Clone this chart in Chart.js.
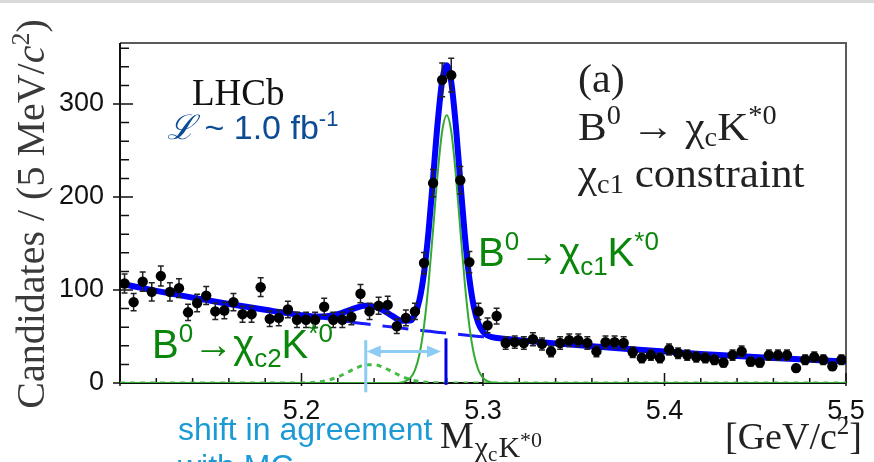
<!DOCTYPE html>
<html>
<head>
<meta charset="utf-8">
<script src="https://cdn.jsdelivr.net/npm/chart.js@4.4.1/dist/chart.umd.min.js"></script>
<style>
html,body{margin:0;padding:0;background:#fff;}
#wrap{position:relative;width:874px;height:462px;overflow:hidden;}
canvas{display:block;}
</style>
</head>
<body>
<div id="wrap"><canvas id="c" width="874" height="462"></canvas></div>
<script>
// B0 -> chi_c K*0 candidates in 5 MeV/c2 bins (bin centres, GeV/c2)
const binCenters = [
  5.1025,5.1075,5.1125,5.1175,5.1225,5.1275,5.1325,5.1375,5.1425,5.1475,
  5.1525,5.1575,5.1625,5.1675,5.1725,5.1775,5.1825,5.1875,5.1925,5.1975,
  5.2025,5.2075,5.2125,5.2175,5.2225,5.2275,5.2325,5.2375,5.2425,5.2475,
  5.2525,5.2575,5.2625,5.2675,5.2725,5.2775,5.2825,5.2875,5.2925,5.2975,
  5.3025,5.3075,5.3125,5.3175,5.3225,5.3275,5.3325,5.3375,5.3425,5.3475,
  5.3525,5.3575,5.3625,5.3675,5.3725,5.3775,5.3825,5.3875,5.3925,5.3975,
  5.4025,5.4075,5.4125,5.4175,5.4225,5.4275,5.4325,5.4375,5.4425,5.4475,
  5.4525,5.4575,5.4625,5.4675,5.4725,5.4775,5.4825,5.4875,5.4925,5.4975
];
const candidates = [
  107,87,109,98,115,98,102,76,86,94,
  77,78,87,74,74,103,69,70,79,68,
  68,68,82,68,68,71,96,77,83,84,
  61,70,77,129,215,326,331,218,130,77,
  62,72,43,44,43,47,42,34,43,46,
  46,43,34,44,44,43,33,27,30,27,
  36,32,30,28,27,25,22,30,34,23,
  22,30,30,30,16,25,28,25,18,25
];
const candidateErrors = [
  10.3,9.3,10.4,9.9,10.7,9.9,10.1,8.7,9.3,9.7,
  8.8,8.8,9.3,8.6,8.6,10.1,8.3,8.4,8.9,8.2,
  8.2,8.2,9.1,8.2,8.2,8.4,9.8,8.8,9.1,9.2,
  7.8,8.4,8.8,11.4,14.7,18.1,18.2,14.8,11.4,8.8,
  7.9,8.5,6.6,6.6,6.6,6.9,6.5,5.8,6.6,6.8,
  6.8,6.6,5.8,6.6,6.6,6.6,5.7,5.2,5.5,5.2,
  6.0,5.7,5.5,5.3,5.2,5.0,4.7,5.5,5.8,4.8,
  4.7,5.5,5.5,5.5,4.0,5.0,5.3,5.0,4.2,5.0
];

// fit components sampled along the mass axis
const fitMass = [
  5.10,5.12,5.14,5.16,5.18,5.20,5.21,5.215,5.22,5.225,5.23,5.235,5.24,5.245,5.25,5.255,
  5.26,5.2625,5.265,5.2675,5.27,5.2725,5.275,5.2775,5.28,5.2825,5.285,5.2875,5.29,5.2925,
  5.295,5.2975,5.30,5.3025,5.305,5.31,5.32,5.34,5.36,5.38,5.40,5.42,5.44,5.46,5.48,5.50
];
const fitTotal = [
  107.0,99.1,91.8,85.0,78.7,73.0,71.4,72.0,74.0,77.3,80.9,83.1,82.2,78.2,72.2,66.9,
  67.1,73.6,89.3,118.3,163.1,220.4,279.6,324.8,341.6,323.8,277.4,217.0,158.4,112.2,
  81.5,63.9,55.1,51.1,49.3,47.8,46.0,42.6,39.4,36.5,33.8,31.3,29.0,26.9,24.9,23.0
];
const fitBackground = [
  107.0,99.1,91.8,85.0,78.7,72.9,70.1,68.8,67.5,66.2,64.9,63.7,62.5,61.3,60.1,59.0,
  57.9,57.3,56.8,56.2,55.7,55.2,54.6,54.1,53.6,53.1,52.6,52.1,51.6,51.1,
  50.6,50.1,49.6,49.2,48.7,47.8,46.0,42.6,39.4,36.5,33.8,31.3,29.0,26.9,24.9,23.0
];
const fitChic1 = [
  0,0,0,0,0,0,0,0,0,0,0,0,0,0,0,0.6,
  5.5,13.8,30.9,61.1,106.8,164.9,224.8,270.7,288.0,270.7,224.8,164.9,106.8,61.1,
  30.9,13.8,5.5,1.9,0.6,0,0,0,0,0,0,0,0,0,0,0
];
const fitChic2 = [
  0,0,0,0,0,0.1,1.3,3.2,6.5,11.1,16.0,19.4,19.7,16.9,12.1,7.3,
  3.7,2.5,1.6,1.0,0.6,0.3,0.2,0.1,0,0,0,0,0,0,
  0,0,0,0,0,0,0,0,0,0,0,0,0,0,0,0
];

// axis labels
const xTickValues = [5.2, 5.3, 5.4, 5.5];
const xTickLabels = ['5.2', '5.3', '5.4', '5.5'];
const yTickValues = [0, 100, 200, 300];
const yTickLabels = ['0', '100', '200', '300'];

// fitted chi_c2 peak position and the B0 mass, marked under the peaks
const chic2PeakMass = 5.2354;
const b0Mass = 5.2796;

const SERIF = '"Liberation Serif", "Times New Roman", serif';
const SANS = '"Liberation Sans", Arial, sans-serif';
const f = (size, fam, style) => (style ? style + ' ' : '') + size + 'px ' + fam;
const pts = (xs, ys) => xs.map((x, i) => ({ x: x, y: ys[i] }));

// draw a run of text pieces with their own font and baseline shift
function rich(ctx, x, y, parts, align) {
  let w = 0;
  parts.forEach(p => { ctx.font = p[1]; w += ctx.measureText(p[0]).width + (p[3] || 0); });
  let cx = align === 'right' ? x - w : align === 'center' ? x - w / 2 : x;
  parts.forEach(p => {
    ctx.font = p[1];
    ctx.fillText(p[0], cx, y + (p[2] || 0));
    cx += ctx.measureText(p[0]).width + (p[3] || 0);
  });
}

const framePlugin = {
  id: 'frame',
  beforeDatasetsDraw(chart) {
    const { ctx, chartArea: a, scales: { x, y } } = chart;
    ctx.save();
    ctx.lineCap = 'butt';
    ctx.strokeStyle = '#5a5a5a';
    ctx.lineWidth = 2;
    ctx.beginPath();
    ctx.moveTo(a.left, a.top); ctx.lineTo(a.right, a.top); ctx.lineTo(a.right, a.bottom);
    ctx.stroke();
    ctx.strokeStyle = '#111';
    ctx.beginPath();
    ctx.moveTo(a.left, a.top); ctx.lineTo(a.left, a.bottom); ctx.lineTo(a.right, a.bottom);
    ctx.stroke();
    ctx.lineWidth = 1.5;
    ctx.beginPath();
    for (let v = 0; v <= 360; v += 20) {
      const py = y.getPixelForValue(v);
      const major = v % 100 === 0;
      ctx.moveTo(a.left - (major ? 7 : 0), py);
      ctx.lineTo(a.left + (major ? 13 : 9), py);
    }
    for (let k = 0; k <= 20; k++) {
      const px = x.getPixelForValue(5.1 + 0.02 * k);
      const major = k % 5 === 0;
      ctx.moveTo(px, a.bottom + (major ? 3 : 0));
      ctx.lineTo(px, a.bottom - (major ? 10 : 5));
    }
    ctx.stroke();
    ctx.restore();
  }
};

const errorBarPlugin = {
  id: 'errorBars',
  beforeDatasetDraw(chart, args) {
    if (args.index !== 0) return;
    const { ctx, scales: { x, y } } = chart;
    ctx.save();
    ctx.strokeStyle = '#222';
    ctx.lineWidth = 1.5;
    ctx.beginPath();
    binCenters.forEach((m, i) => {
      const px = x.getPixelForValue(m);
      const y1 = y.getPixelForValue(candidates[i] + candidateErrors[i]);
      const y0 = y.getPixelForValue(candidates[i] - candidateErrors[i]);
      ctx.moveTo(px, y0); ctx.lineTo(px, y1);
      ctx.moveTo(px - 3, y1); ctx.lineTo(px + 3, y1);
      ctx.moveTo(px - 3, y0); ctx.lineTo(px + 3, y0);
    });
    ctx.stroke();
    ctx.restore();
  }
};

const labelPlugin = {
  id: 'labels',
  afterDraw(chart) {
    const { ctx, scales: { x, y } } = chart;
    ctx.save();
    ctx.textBaseline = 'alphabetic';
    ctx.textAlign = 'left';

    // thin grey strip along the top edge
    ctx.fillStyle = '#d9d9d9';
    ctx.fillRect(0, 0, 874, 3);

    // chi_c2 position and B0 mass markers with the shift arrow
    const xs = x.getPixelForValue(chic2PeakMass);
    const xb = x.getPixelForValue(b0Mass);
    ctx.lineWidth = 3;
    ctx.strokeStyle = '#8ccbf3';
    ctx.beginPath();
    ctx.moveTo(xs, y.getPixelForValue(46)); ctx.lineTo(xs, y.getPixelForValue(-10));
    ctx.stroke();
    const ya = y.getPixelForValue(34);
    const tipL = xs + 1, tipR = xb - 5;
    ctx.beginPath();
    ctx.moveTo(tipL + 10, ya); ctx.lineTo(tipR - 10, ya);
    ctx.stroke();
    ctx.fillStyle = '#8ccbf3';
    ctx.beginPath();
    ctx.moveTo(tipL, ya); ctx.lineTo(tipL + 14, ya - 6); ctx.lineTo(tipL + 14, ya + 6); ctx.closePath();
    ctx.moveTo(tipR, ya); ctx.lineTo(tipR - 14, ya - 6); ctx.lineTo(tipR - 14, ya + 6); ctx.closePath();
    ctx.fill();
    ctx.strokeStyle = '#0000e6';
    ctx.beginPath();
    ctx.moveTo(xb, y.getPixelForValue(48)); ctx.lineTo(xb, y.getPixelForValue(-2));
    ctx.stroke();

    // y axis title
    ctx.save();
    ctx.translate(44, 214);
    ctx.rotate(-Math.PI / 2);
    ctx.fillStyle = '#3a3a3a';
    rich(ctx, 0, 0, [
      ['Candidates / (5 MeV/', f(40, SERIF)],
      ['c', f(40, SERIF, 'italic')],
      ['2', f(26, SERIF), -15],
      [')', f(40, SERIF)]
    ], 'center');
    ctx.restore();

    // x axis title
    ctx.fillStyle = '#222';
    rich(ctx, 440, 448, [
      ['M', f(38, SERIF), 0, 1],
      ['\u03C7', f(30, SERIF), 9],
      ['c', f(21, SERIF), 13, 1],
      ['K', f(30, SERIF), 9],
      ['*0', f(22, SERIF), -1]
    ]);
    rich(ctx, 862, 449, [
      ['[GeV/c', f(38, SERIF)],
      ['2', f(25, SERIF), -15],
      [']', f(38, SERIF)]
    ], 'right');

    // experiment and luminosity
    ctx.fillStyle = '#111';
    rich(ctx, 192, 105, [['LHCb', f(37, SERIF)]]);
    ctx.fillStyle = '#0c4c95';
    rich(ctx, 167, 139, [
      ['\u2112', f(34, '"DejaVu Serif", serif', 'italic')],
      [' ~ 1.0 fb', f(34, SANS)],
      ['-1', f(22, SANS), -13]
    ]);

    // panel legend, slightly widened lettering
    ctx.save();
    ctx.translate(578, 0);
    ctx.scale(1.05, 1);
    ctx.fillStyle = '#222';
    rich(ctx, 0, 92, [['(a)', f(40, SERIF)]]);
    rich(ctx, 0, 140, [
      ['B', f(41, SERIF)],
      ['0', f(27, SERIF), -16],
      [' \u2192 ', f(41, SERIF)],
      ['\u03C7', f(41, SERIF)],
      ['c', f(27, SERIF), 6],
      ['K', f(41, SERIF)],
      ['*0', f(27, SERIF), -16]
    ]);
    rich(ctx, 0, 187, [
      ['\u03C7', f(41, SERIF)],
      ['c1', f(27, SERIF), 6],
      [' constraint', f(41, SERIF)]
    ]);
    ctx.restore();

    // signal component labels
    ctx.fillStyle = '#0a860a';
    const decay = (x0, y0, sub) => rich(ctx, x0, y0, [
      ['B', f(40, SANS)],
      ['0', f(26, SANS), -16],
      ['\u2192', f(40, SANS)],
      ['\u03C7', f(40, SANS)],
      [sub, f(26, SANS), 9],
      ['K', f(40, SANS)],
      ['*0', f(26, SANS), -16]
    ]);
    decay(478, 266, 'c1');
    decay(152, 358, 'c2');

    // note under the axis
    ctx.fillStyle = '#1c9ad6';
    rich(ctx, 178, 440, [['shift in agreement', f(32, SANS)]]);
    rich(ctx, 178, 477, [['with MC', f(32, SANS)]]);

    ctx.restore();
  }
};

new Chart(document.getElementById('c'), {
  type: 'scatter',
  data: {
    datasets: [
      { label: 'Data', data: pts(binCenters, candidates), pointRadius: 5.2, pointHoverRadius: 5.2,
        backgroundColor: '#000', borderWidth: 0, order: 0 },
      { type: 'line', label: 'Total fit', data: pts(fitMass, fitTotal), borderColor: '#0000ff',
        borderWidth: 6, pointRadius: 0, cubicInterpolationMode: 'monotone', fill: false, order: 1 },
      { type: 'line', label: 'chi_c1', data: pts(fitMass, fitChic1), borderColor: '#33aa33',
        borderWidth: 2, pointRadius: 0, cubicInterpolationMode: 'monotone', fill: false, order: 2 },
      { type: 'line', label: 'Background', data: pts(fitMass, fitBackground), borderColor: '#1a1aff',
        borderWidth: 3, borderDash: [26, 12], pointRadius: 0, cubicInterpolationMode: 'monotone', fill: false, order: 3 },
      { type: 'line', label: 'chi_c2', data: pts(fitMass, fitChic2), borderColor: '#44bb44',
        borderWidth: 3, borderDash: [5, 5], pointRadius: 0, cubicInterpolationMode: 'monotone', fill: false, order: 4 }
    ]
  },
  options: {
    responsive: false,
    animation: false,
    devicePixelRatio: 1,
    events: [],
    layout: { padding: { top: 43, right: 28, left: 0, bottom: 0 } },
    plugins: { legend: { display: false }, tooltip: { enabled: false } },
    scales: {
      x: {
        type: 'linear', min: 5.1, max: 5.5,
        grid: { display: false }, border: { display: false },
        afterBuildTicks: s => { s.ticks = xTickValues.map(v => ({ value: v })); },
        afterFit: s => { s.height = 79; },
        ticks: {
          autoSkip: false, maxRotation: 0, padding: 4, color: '#111',
          font: { family: SANS, size: 27 },
          callback: v => { const i = xTickValues.findIndex(t => Math.abs(t - v) < 1e-9); return i < 0 ? '' : xTickLabels[i]; }
        }
      },
      y: {
        type: 'linear', min: 0, max: 365.6,
        grid: { display: false }, border: { display: false },
        afterBuildTicks: s => { s.ticks = yTickValues.map(v => ({ value: v })); },
        afterFit: s => { s.width = 120; },
        ticks: {
          autoSkip: false, padding: 8, color: '#111',
          font: { family: SANS, size: 27 },
          callback: v => { const i = yTickValues.indexOf(v); return i < 0 ? '' : yTickLabels[i]; }
        }
      }
    }
  },
  plugins: [framePlugin, errorBarPlugin, labelPlugin]
});
</script>
</body>
</html>
